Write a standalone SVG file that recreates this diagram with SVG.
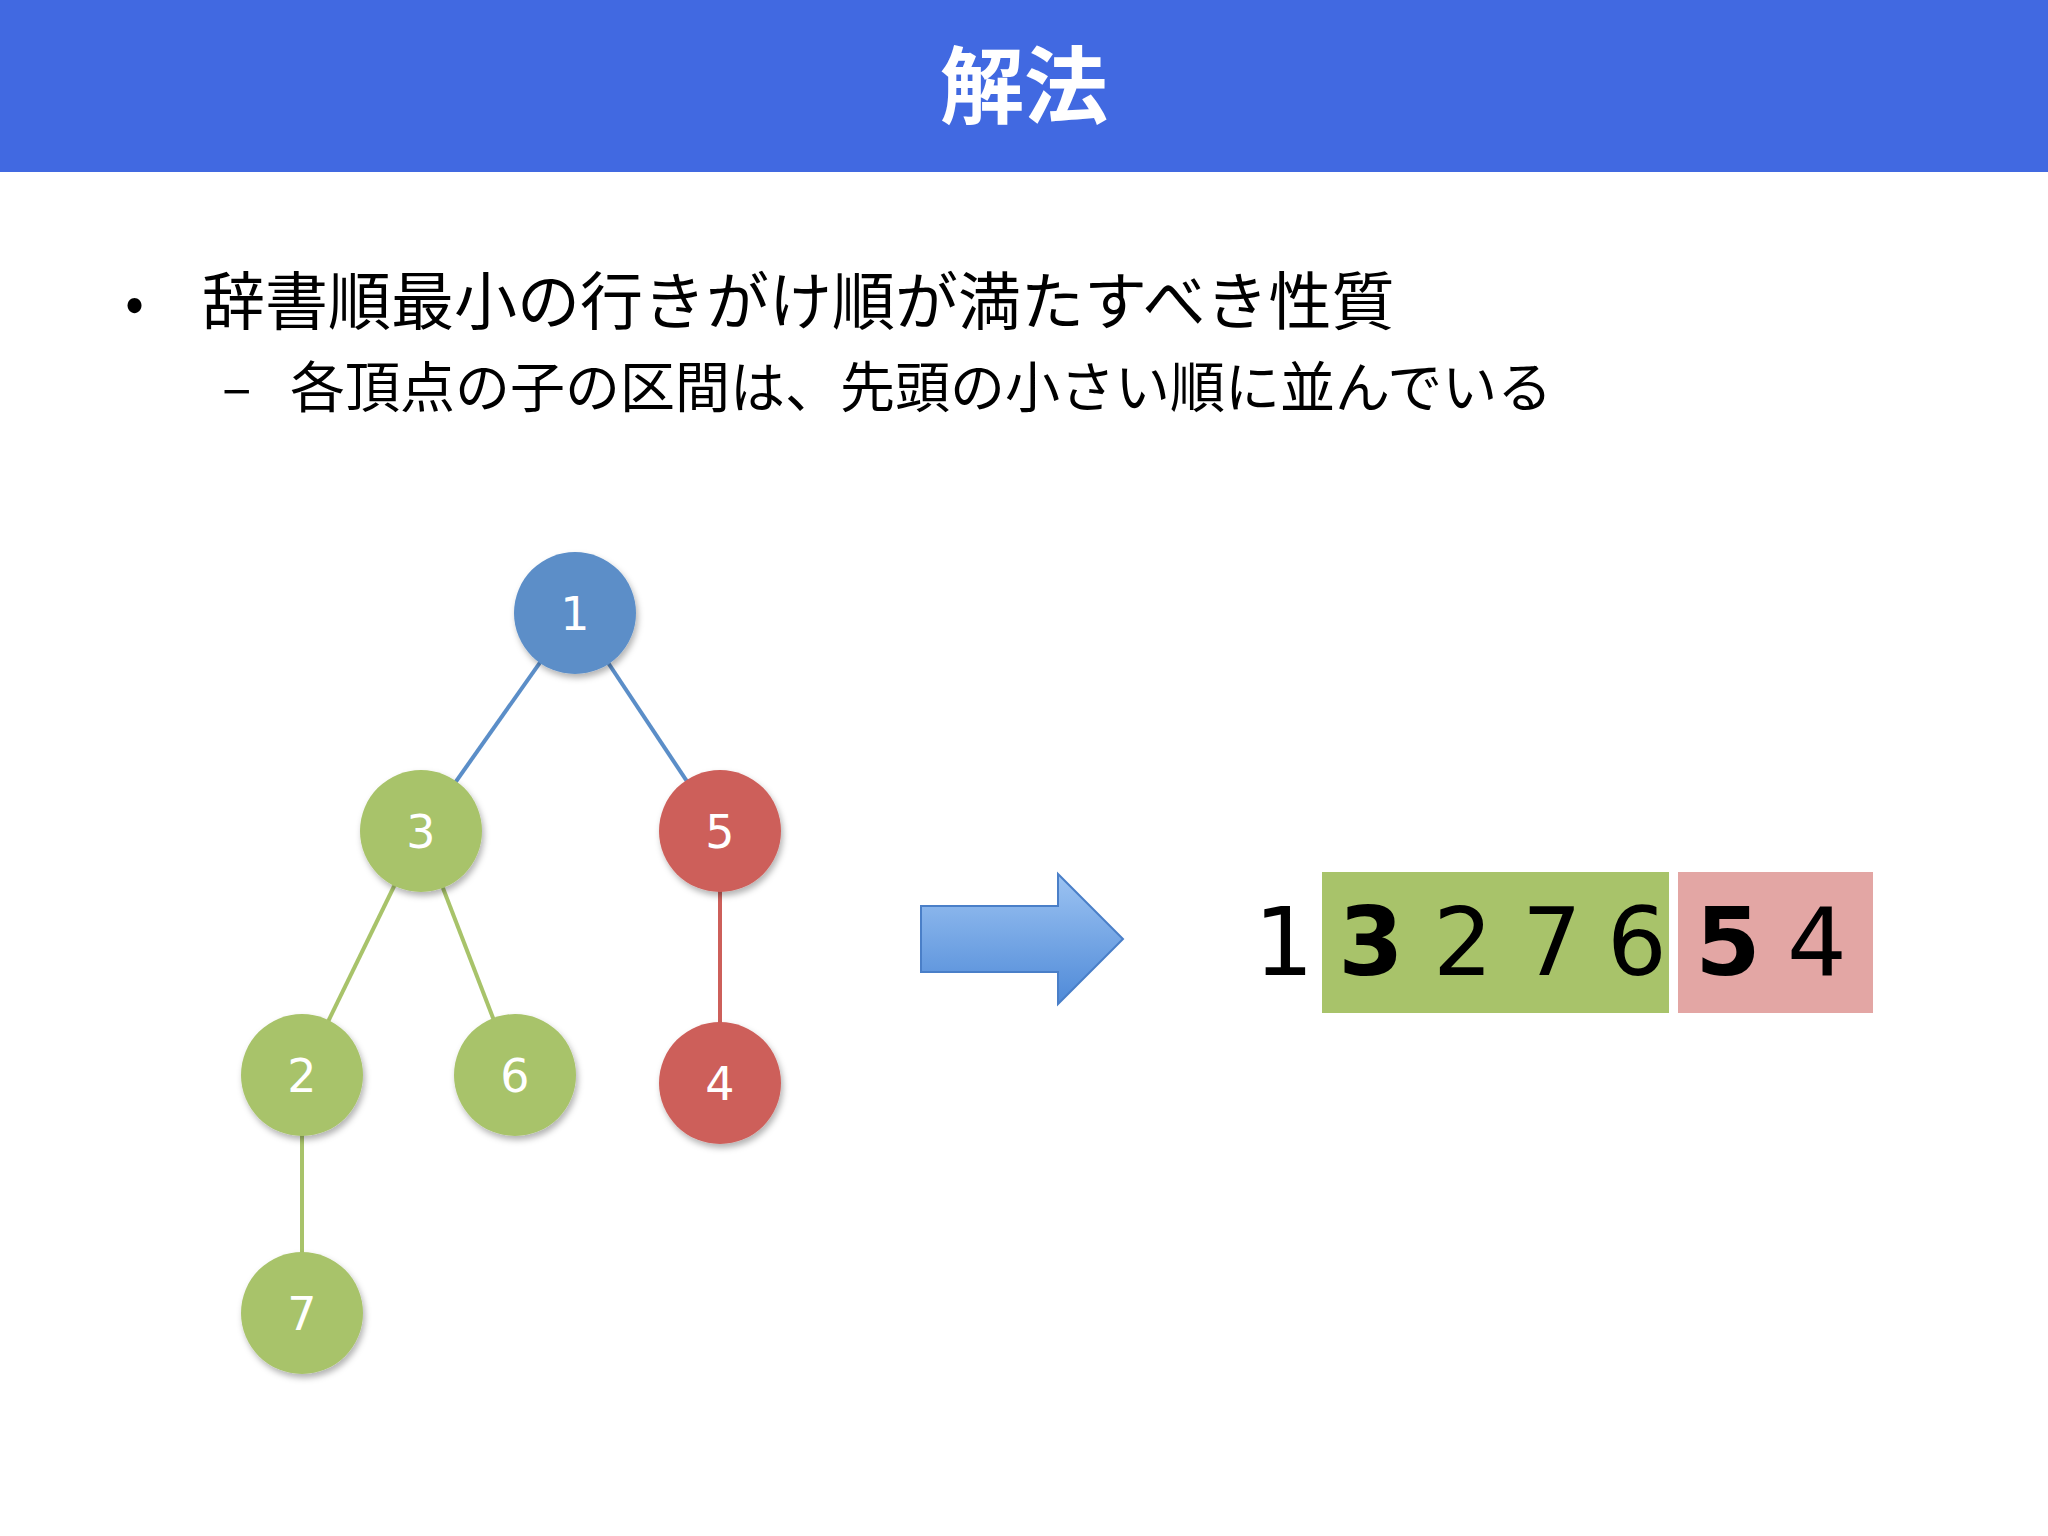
<svg xmlns="http://www.w3.org/2000/svg" width="2048" height="1536" viewBox="0 0 2048 1536">
<style>
.jp{font-family:"Noto Sans CJK JP","Noto Sans",sans-serif;}
.n{font-family:"DejaVu Sans",sans-serif;font-size:46px;fill:#fff;text-anchor:middle;}
.s{font-family:"DejaVu Sans",sans-serif;font-size:94px;fill:#000;text-anchor:middle;}
.b{fill:#5b8ec8}.g{fill:#a8c36a}.r{fill:#cd5f5a}
</style>
<defs>
<linearGradient id="ag" x1="0" y1="0" x2="0" y2="1">
<stop offset="0" stop-color="#9cc3f2"/><stop offset="1" stop-color="#4f8ad8"/>
</linearGradient>
<filter id="sh" x="-30%" y="-30%" width="160%" height="160%"><feDropShadow dx="2" dy="4" stdDeviation="3" flood-opacity="0.3"/></filter>
</defs>
<rect width="2048" height="1536" fill="#fff"/>
<rect x="0" y="0" width="2048" height="172" fill="#4169e1"/>
<text class="jp" x="1024" y="117" font-size="84" font-weight="bold" fill="#fff" text-anchor="middle">解法</text>
<text class="jp" x="125" y="322" font-size="56" fill="#000">•</text>
<text class="jp" x="202" y="324" font-size="63" fill="#000">辞書順最小の行きがけ順が満たすべき性質</text>
<text class="jp" x="222" y="407" font-size="55" fill="#000">–</text>
<text class="jp" x="290" y="407" font-size="55" fill="#000">各頂点の子の区間は、先頭の小さい順に並んでいる</text>
<g id="edges" stroke-width="4">
<line x1="575" y1="613" x2="421" y2="831" stroke="#5b8ec8"/>
<line x1="575" y1="613" x2="720" y2="831" stroke="#5b8ec8"/>
<line x1="421" y1="831" x2="302" y2="1075" stroke="#a8c36a"/>
<line x1="421" y1="831" x2="515" y2="1075" stroke="#a8c36a"/>
<line x1="302" y1="1075" x2="302" y2="1313" stroke="#a8c36a"/>
<line x1="720" y1="831" x2="720" y2="1083" stroke="#cd5f5a"/>
</g>
<g id="n1"><circle cx="575" cy="613" r="61" class="b" filter="url(#sh)"/><text class="n" x="575" y="630">1</text></g>
<g id="n3"><circle cx="421" cy="831" r="61" class="g" filter="url(#sh)"/><text class="n" x="421" y="848">3</text></g>
<g id="n5"><circle cx="720" cy="831" r="61" class="r" filter="url(#sh)"/><text class="n" x="720" y="848">5</text></g>
<g id="n2"><circle cx="302" cy="1075" r="61" class="g" filter="url(#sh)"/><text class="n" x="302" y="1092">2</text></g>
<g id="n6"><circle cx="515" cy="1075" r="61" class="g" filter="url(#sh)"/><text class="n" x="515" y="1092">6</text></g>
<g id="n4"><circle cx="720" cy="1083" r="61" class="r" filter="url(#sh)"/><text class="n" x="720" y="1100">4</text></g>
<g id="n7"><circle cx="302" cy="1313" r="61" class="g" filter="url(#sh)"/><text class="n" x="302" y="1330">7</text></g>
<g id="arrow"><path d="M921,906 H1058 V874 L1123,939 L1058,1004 V972 H921 Z" fill="url(#ag)" stroke="#4a7fc8" stroke-width="2"/></g>
<g id="seq">
<rect x="1322" y="872" width="347" height="141" fill="#a8c36a"/>
<rect x="1678" y="872" width="195" height="141" fill="#e3a6a4"/>
<text class="s" x="1284" y="975">1</text>
<text class="s" x="1371" y="975" font-weight="bold">3</text>
<text class="s" x="1463" y="975">2</text>
<text class="s" x="1552" y="975">7</text>
<text class="s" x="1637" y="975">6</text>
<text class="s" x="1728" y="975" font-weight="bold">5</text>
<text class="s" x="1817" y="975">4</text>
</g>
</svg>
